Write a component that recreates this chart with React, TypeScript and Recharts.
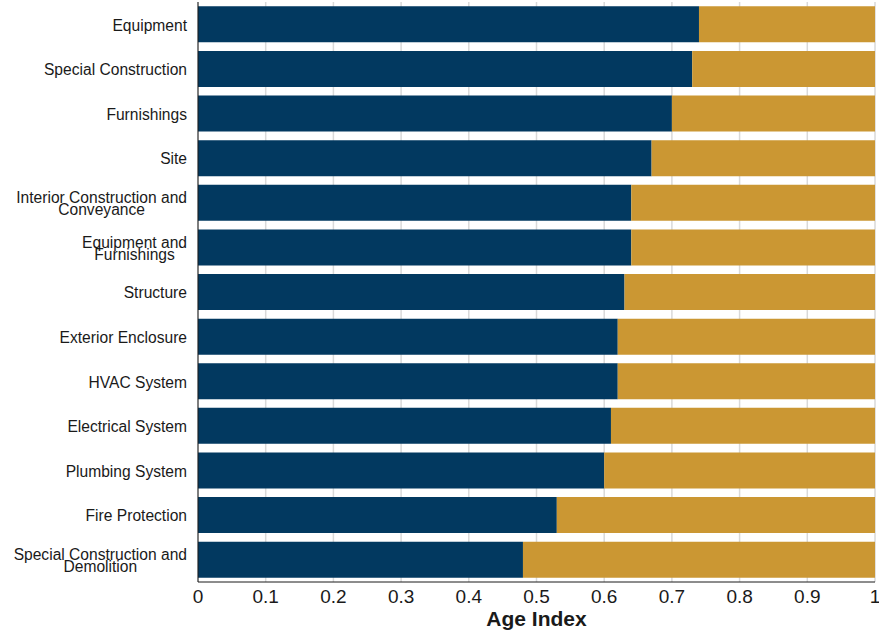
import React from 'react';
import { BarChart, Bar, XAxis, YAxis, CartesianGrid } from 'recharts';

const categories: string[] = [
  'Equipment',
  'Special Construction',
  'Furnishings',
  'Site',
  'Interior Construction and|Conveyance',
  'Equipment and|Furnishings',
  'Structure',
  'Exterior Enclosure',
  'HVAC System',
  'Electrical System',
  'Plumbing System',
  'Fire Protection',
  'Special Construction and|Demolition',
];

const ageIndex: number[] = [0.74, 0.73, 0.7, 0.67, 0.64, 0.64, 0.63, 0.62, 0.62, 0.61, 0.6, 0.53, 0.48];
const remaining: number[] = ageIndex.map((v) => Math.round((1 - v) * 100) / 100);

const xTicks: number[] = [0, 0.1, 0.2, 0.3, 0.4, 0.5, 0.6, 0.7, 0.8, 0.9, 1];

const data = categories.map((name, i) => ({ name, age: ageIndex[i], rest: remaining[i] }));

const FONT = '"Liberation Sans", Arial, sans-serif';
const NAVY = '#023960';
const GOLD = '#CB9733';
const LABEL_SIZE = 15.6;

let ctx: CanvasRenderingContext2D | null = null;
function measure(text: string, size: number): number {
  try {
    if (!ctx) ctx = document.createElement('canvas').getContext('2d');
    if (ctx) {
      ctx.font = `${size}px "Liberation Sans", Arial, sans-serif`;
      return ctx.measureText(text).width;
    }
  } catch (e) {}
  return text.length * size * 0.5;
}

const YTick = (props: any) => {
  const { y, payload } = props;
  const right = 187;
  const lines: string[] = String(payload.value).split('|');
  if (lines.length === 1) {
    return (
      <text x={right} y={y + 6.3} textAnchor="end" fontSize={LABEL_SIZE} fontFamily={FONT} fill="#1a1a1a">
        {lines[0]}
      </text>
    );
  }
  const w = measure(lines[0], LABEL_SIZE);
  const cx = right - w / 2;
  return (
    <g>
      <text x={cx} y={y + 0.3} textAnchor="middle" fontSize={LABEL_SIZE} fontFamily={FONT} fill="#1a1a1a">
        {lines[0]}
      </text>
      <text x={cx} y={y + 12.3} textAnchor="middle" fontSize={LABEL_SIZE} fontFamily={FONT} fill="#1a1a1a">
        {lines[1]}
      </text>
    </g>
  );
};

export default function App() {
  return (
    <div style={{ position: 'fixed', left: 0, top: 0, width: 879, height: 637, background: '#fff' }}>
      <BarChart
        width={879}
        height={637}
        data={data}
        layout="vertical"
        margin={{ top: 2, right: 4, bottom: 0, left: 0 }}
        barCategoryGap="9.7%"
      >
        <CartesianGrid horizontal={false} vertical={true} stroke="#d9d9d9" strokeWidth={1.5} />
        <XAxis
          type="number"
          domain={[0, 1]}
          ticks={xTicks}
          tickFormatter={(v: number) => String(v)}
          tickLine={false}
          axisLine={{ stroke: '#1a1a1a', strokeWidth: 1 }}
          tick={{ fontSize: 19, fontFamily: FONT, fill: '#1a1a1a' }}
          height={55}
          interval={0}
          label={{
            content: (p: any) => {
              const vb = p.viewBox || { x: 198, width: 677 };
              return (
                <text
                  x={vb.x + vb.width / 2}
                  y={626}
                  textAnchor="middle"
                  fontSize={21}
                  fontWeight="bold"
                  fontFamily={FONT}
                  fill="#1a1a1a"
                >
                  Age Index
                </text>
              );
            },
          }}
        />
        <YAxis
          type="category"
          dataKey="name"
          width={198}
          tickLine={false}
          axisLine={{ stroke: '#1a1a1a', strokeWidth: 1 }}
          tick={<YTick />}
          interval={0}
        />
        <Bar dataKey="age" stackId="a" fill={NAVY} isAnimationActive={false} />
        <Bar dataKey="rest" stackId="a" fill={GOLD} isAnimationActive={false} />
      </BarChart>
    </div>
  );
}
